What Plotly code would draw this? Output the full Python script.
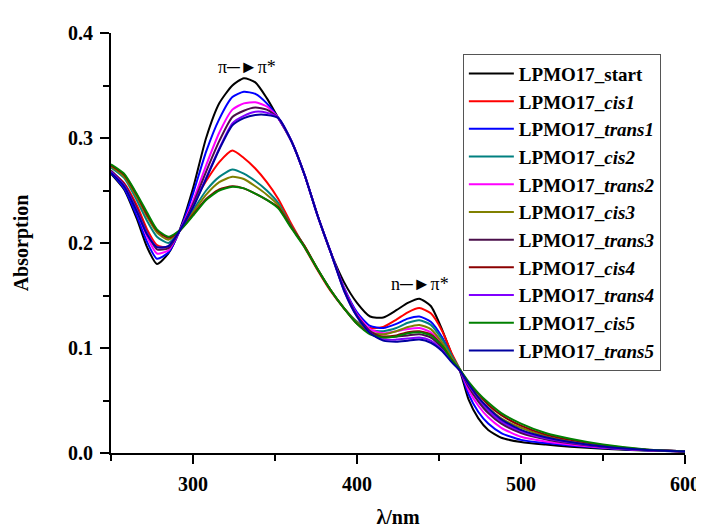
import plotly.graph_objects as go

wavelength = [250, 258, 266, 272, 278, 285, 292, 300, 308, 316, 324, 331, 338, 345, 352, 360, 368, 376, 384, 392,
              400, 408, 416, 424, 431, 438, 445, 452, 458, 463, 468, 474, 480, 488, 500, 515, 530, 550, 575, 600]

start = [.266, .251, .222, .196, .180, .190, .213, .252, .300, .333, .350, .357, .353, .338, .319, .297, .265, .226, .191, .163,
         .143, .130, .129, .136, .143, .147, .140, .117, .093, .077, .051, .033, .022, .0145, .0105, .008, .006, .004, .0025, .0015]
cis1 = [.268, .257, .235, .213, .198, .196, .212, .238, .259, .277, .288, .281, .271, .258, .242, .218, .196, .174, .154, .138,
        .125, .119, .120, .127, .134, .138, .133, .116, .094, .079, .064, .050, .040, .030, .021, .0145, .010, .006, .003, .0015]
trans1 = [.267, .252, .225, .201, .185, .191, .212, .247, .287, .318, .339, .344, .342, .333, .319, .297, .265, .226, .191, .158,
          .134, .121, .119, .123, .128, .130, .125, .110, .091, .078, .056, .039, .028, .019, .0125, .0095, .0072, .0048, .0027, .0015]
cis2 = [.272, .262, .240, .221, .206, .200, .212, .231, .250, .263, .270, .266, .259, .250, .238, .216, .197, .175, .155, .138,
        .125, .117, .116, .119, .124, .1265, .122, .108, .092, .079, .064, .050, .039, .029, .020, .0135, .0095, .0057, .003, .0015]
trans2 = [.268, .254, .229, .206, .190, .193, .212, .240, .274, .305, .327, .333, .334, .330, .319, .297, .265, .226, .191, .157,
          .132, .118, .114, .116, .118, .119, .115, .104, .089, .078, .060, .045, .034, .024, .0155, .011, .0082, .0052, .0028, .0015]
cis3 = [.273, .263, .243, .225, .210, .203, .212, .229, .246, .258, .263, .261, .254, .246, .236, .215, .197, .175, .155, .138,
        .124, .115, .113, .116, .120, .122, .118, .105, .090, .079, .066, .053, .043, .033, .024, .016, .011, .0066, .0032, .0015]
trans3 = [.269, .256, .232, .210, .194, .195, .212, .237, .268, .297, .320, .326, .329, .327, .319, .297, .265, .226, .191, .156,
          .131, .116, .110, .111, .112, .113, .110, .100, .088, .078, .063, .049, .038, .028, .019, .013, .0092, .0056, .003, .0015]
cis4 = [.274, .265, .245, .227, .212, .205, .212, .227, .242, .251, .254, .252, .247, .241, .234, .215, .197, .175, .155, .138,
        .123, .114, .111, .112, .115, .116, .113, .102, .088, .078, .067, .056, .046, .036, .026, .0175, .0125, .0075, .0034, .0015]
trans4 = [.268, .255, .230, .209, .196, .197, .212, .234, .262, .290, .314, .321, .325, .324, .319, .297, .265, .226, .191, .155,
          .130, .114, .108, .108, .109, .110, .107, .098, .087, .078, .065, .052, .041, .030, .021, .014, .010, .006, .003, .0015]
cis5 = [.275, .266, .246, .229, .213, .206, .212, .226, .241, .250, .2535, .252, .247, .241, .233, .214, .196, .175, .155, .138,
        .123, .113, .110, .111, .114, .115, .112, .102, .088, .079, .068, .057, .048, .038, .028, .019, .0135, .008, .0036, .0015]
trans5 = [.267, .254, .229, .208, .196, .197, .212, .234, .261, .289, .312, .319, .322, .322, .319, .297, .265, .226, .191, .155,
          .130, .114, .107, .106, .107, .108, .105, .097, .086, .078, .066, .053, .043, .032, .022, .015, .0105, .0062, .0031, .0015]

series_names = ["LPMO17_start", "LPMO17_<i>cis1</i>", "LPMO17_<i>trans1</i>", "LPMO17_<i>cis2</i>",
                "LPMO17_<i>trans2</i>", "LPMO17_<i>cis3</i>", "LPMO17_<i>trans3</i>", "LPMO17_<i>cis4</i>",
                "LPMO17_<i>trans4</i>", "LPMO17_<i>cis5</i>", "LPMO17_<i>trans5</i>"]
series_values = [start, cis1, trans1, cis2, trans2, cis3, trans3, cis4, trans4, cis5, trans5]
series_colors = ["#000000", "#FF0000", "#0000FF", "#008080", "#FF00FF", "#808000",
                 "#4A0F4A", "#8B0000", "#8000FF", "#008000", "#0000A0"]

x_ticks = [300, 400, 500, 600]
y_ticks = [0.0, 0.1, 0.2, 0.3, 0.4]

serif = "Liberation Serif, Times New Roman, serif"

fig = go.Figure()
for name, vals, col in zip(series_names, series_values, series_colors):
    fig.add_trace(go.Scatter(x=wavelength, y=vals, name=name, mode="lines",
                             line=dict(color=col, width=2, shape="spline", smoothing=0.6)))

fig.add_annotation(x=333, y=0.368, text="π\u2500\u25BAπ*", showarrow=False,
                   font=dict(family=serif, size=18, color="black"))
fig.add_annotation(x=438.5, y=0.161, text="n\u2500\u25BAπ*", showarrow=False,
                   font=dict(family=serif, size=18, color="black"))

axis_common = dict(showgrid=False, zeroline=False, showline=True, linecolor="black", linewidth=2,
                   ticks="outside", ticklen=9, tickwidth=2, tickcolor="black", ticklabelstandoff=3,
                   tickfont=dict(family=serif, size=20, color="black", weight="bold"))

fig.update_xaxes(range=[250, 600], tickvals=x_ticks, ticktext=[str(v) for v in x_ticks],
                 minor=dict(tickvals=[250, 350, 450, 550], ticks="outside", ticklen=6, tickwidth=2, tickcolor="black"),
                 title=dict(text="λ/nm", font=dict(family=serif, size=20, color="black", weight="bold"), standoff=16),
                 **axis_common)
fig.update_yaxes(range=[0, 0.4], tickvals=y_ticks, ticktext=[f"{v:.1f}" for v in y_ticks],
                 minor=dict(tickvals=[0.05, 0.15, 0.25, 0.35], ticks="outside", ticklen=6, tickwidth=2, tickcolor="black"),
                 title=dict(text="Absorption", font=dict(family=serif, size=20, color="black", weight="bold"), standoff=34),
                 **axis_common)

fig.update_layout(
    width=704, height=529,
    margin=dict(l=102, r=18, t=25, b=72),
    paper_bgcolor="white", plot_bgcolor="white",
    legend=dict(x=0.613, y=0.951, xanchor="left", yanchor="top",
                font=dict(family=serif, size=19, color="black", weight="bold"),
                bgcolor="white", bordercolor="#555555", borderwidth=1, tracegroupgap=0,
                itemwidth=45),
)

fig.write_html("out.html")
